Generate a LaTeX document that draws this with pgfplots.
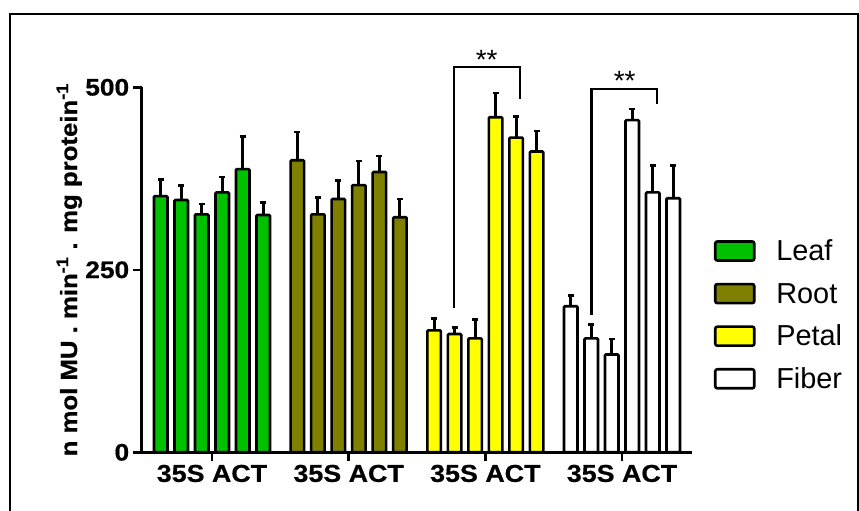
\documentclass[border=0pt]{standalone}
\usepackage{fontspec}
\setmainfont{Liberation Sans}
\newfontfamily\wb[FakeStretch=1.1, FakeBold=0.6]{Liberation Sans}
\usepackage{pgfplots}
\pgfplotsset{compat=1.18}
\definecolor{leaf}{RGB}{0,192,0}
\definecolor{root}{RGB}{128,128,0}
\definecolor{petal}{RGB}{255,255,0}
\pgfplotsset{
  mybar/.style={ybar, bar width=13.5bp, bar shift=0pt,
    error bars/.cd, y dir=plus, y explicit,
    error bar style={line width=3bp, black},
    error mark options={rotate=90, mark size=3bp, line width=2.6bp, black},
    /pgfplots/.cd,
    legend image code/.code={\draw[##1, line width=2.6bp, rounded corners=2bp] (0bp,-9.5bp) rectangle (39bp,9.5bp);}},
}
\begin{document}
\begin{tikzpicture}[x=1bp,y=1bp]
\useasboundingbox (0,0) rectangle (859,511);
\draw[line width=1.3bp] (10,-5) -- (10,497) -- (858,497) -- (858,-5);
\begin{axis}[
  at={(141.7bp,58.7bp)}, anchor=south west,
  scale only axis, width=550bp, height=365bp,
  xmin=0.486, xmax=4.51, ymin=0, ymax=500,
  axis lines*=left,
  axis line style={line width=2.5bp},
  clip=false,
  xtick={1,2,3,4},
  xticklabels={35S ACT,35S ACT,35S ACT,35S ACT},
  ytick={0,250,500},
  tick align=outside,
  major tick length=9bp,
  tick style={line width=2.5bp, black},
  /pgf/number format/assume math mode=true,
  yticklabel style={font=\wb\bfseries\fontsize{24}{24}\selectfont},
  xticklabel style={font=\wb\bfseries\fontsize{24.5}{24.5}\selectfont},
  ylabel={n mol MU . min\textsuperscript{-1} . mg protein\textsuperscript{-1}},
  every axis y label/.style={at={(axis description cs:-0.1176,0.5)}, rotate=90, anchor=base, font=\wb\bfseries\fontsize{23.5}{23.5}\selectfont},
  legend cell align=left,
  legend style={at={(rel axis cs:1.0405,0.5811)}, anchor=north west, draw=none, fill=none,
    inner sep=0pt, outer sep=0pt, font=\fontsize{29}{29}\selectfont, row sep=21bp,
    nodes={inner sep=0pt, text height=20bp, text depth=1bp},
    /tikz/every odd column/.append style={column sep=20.7bp}},
]
\addplot[mybar, fill=leaf, draw=black, line width=2.6bp, rounded corners=1bp] coordinates {
 (0.625,351) +- (0,23)
 (0.775,345.6) +- (0,20)
 (0.925,326) +- (0,14)
 (1.075,356) +- (0,21)
 (1.225,388) +- (0,45)
 (1.375,325) +- (0,17)
};
\addplot[mybar, fill=root, draw=black, line width=2.6bp, rounded corners=1bp] coordinates {
 (1.625,400) +- (0,39)
 (1.775,326) +- (0,23)
 (1.925,347) +- (0,25)
 (2.075,366) +- (0,33)
 (2.225,384) +- (0,22)
 (2.375,322) +- (0,25)
};
\addplot[mybar, fill=petal, draw=black, line width=2.6bp, rounded corners=1bp] coordinates {
 (2.625,167) +- (0,16)
 (2.775,162) +- (0,9)
 (2.925,156) +- (0,26)
 (3.075,459) +- (0,33)
 (3.225,431) +- (0,29)
 (3.375,412) +- (0,28)
};
\addplot[mybar, fill=white, draw=black, line width=2.6bp, rounded corners=1bp] coordinates {
 (3.625,200) +- (0,15)
 (3.775,156) +- (0,19)
 (3.925,134) +- (0,21)
 (4.075,455) +- (0,15)
 (4.225,356) +- (0,37)
 (4.375,348) +- (0,45)
};
\legend{Leaf,Root,Petal,Fiber}
\addplot[black, line width=2.4bp, mark=none, forget plot] coordinates {(2.772,197) (2.772,528) (3.252,528) (3.252,484)};
\addplot[black, line width=2.4bp, mark=none, forget plot] coordinates {(3.778,188) (3.778,497.7) (4.254,497.7) (4.254,476.7)};
\node[font=\fontsize{28}{28}\selectfont, anchor=base] at (axis cs:3.01,525) {**};
\node[font=\fontsize{28}{28}\selectfont, anchor=base] at (axis cs:4.02,495) {**};
\end{axis}
\end{tikzpicture}
\end{document}
